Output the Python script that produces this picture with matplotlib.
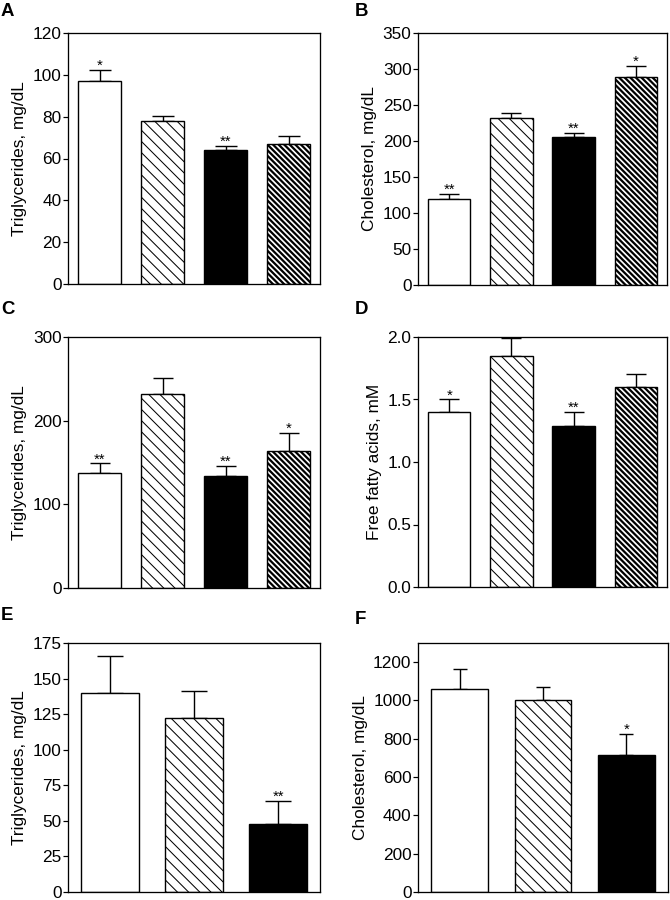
import matplotlib
matplotlib.use('Agg')
import matplotlib.pyplot as plt
import numpy as np

plt.rcParams['font.family'] = ['Liberation Sans', 'DejaVu Sans']

# ------------ Data ---------------
# A: triglycerides
tg_a = [97, 78, 64, 67]
tg_a_err = [5.3, 2.1, 1.9, 3.7]
tg_a_sig = ['*', '', '**', '']

# B: cholesterol
chol_b = [120, 232, 206, 289]
chol_b_err = [6, 7, 5, 15]
chol_b_sig = ['**', '', '**', '*']

# C: triglycerides
tg_c = [137, 232, 134, 164]
tg_c_err = [12, 19, 12, 21]
tg_c_sig = ['**', '', '**', '*']

# D: free fatty acids
ffa_d = [1.40, 1.85, 1.29, 1.60]
ffa_d_err = [0.10, 0.14, 0.11, 0.10]
ffa_d_sig = ['*', '', '**', '']

# E: triglycerides (3 groups)
tg_e = [140, 122, 48]
tg_e_err = [26, 19, 16]
tg_e_sig = ['', '', '**']

# F: cholesterol (3 groups)
chol_f = [1058, 1004, 716]
chol_f_err = [107, 64, 110]
chol_f_sig = ['', '', '*']

# ------------ Plot Setup ---------------
DPI = 67
W, H = 670, 900
fig = plt.figure(figsize=(W / DPI, H / DPI), dpi=DPI)

# bar styles: (face, hatch, hatch linewidth)
STYLES = [('white', None, 1.0), ('white', '\\\\', 1.1),
          ('black', None, 1.0), ('white', '\\\\\\\\', 2.4)]


def px_axes(left, top, right, bottom):
    return fig.add_axes([left / W, 1 - bottom / H, (right - left) / W, (bottom - top) / H])


def panel(ax, vals, errs, sig, ylim, ticks, ylabel, capsize, fmt=None):
    n = len(vals)
    x = np.arange(n)
    for i in range(n):
        face, hatch, hlw = STYLES[i]
        with plt.rc_context({'hatch.linewidth': hlw}):
            bars = ax.bar(x[i], vals[i], width=0.68, color=face, edgecolor='black',
                          linewidth=1.5, hatch=hatch, zorder=2)
        for b in bars:
            if hasattr(b, 'set_hatch_linewidth'):
                b.set_hatch_linewidth(hlw)
    ax.errorbar(x, vals, yerr=[np.zeros(n), errs], fmt='none', ecolor='black',
                elinewidth=1.5, capsize=capsize, capthick=1.5, zorder=1)
    for i in range(n):
        if sig[i]:
            ax.annotate(sig[i], (x[i], vals[i] + errs[i]), xytext=(0, 0),
                        textcoords='offset points', ha='center', va='baseline',
                        fontsize=16)
    ax.set_xlim(-0.5, n - 0.5)
    ax.set_ylim(*ylim)
    ax.set_yticks(ticks)
    if fmt:
        ax.set_yticklabels([fmt.format(t) for t in ticks])
    ax.set_xticks([])
    ax.tick_params(axis='y', direction='out', length=5, width=1.3, labelsize=18.5, pad=2)
    for s in ax.spines.values():
        s.set_linewidth(1.4)
    ax.set_ylabel(ylabel, fontsize=18.5, labelpad=6)


axA = px_axes(68, 33, 320, 284)
panel(axA, tg_a, tg_a_err, tg_a_sig, (0, 120), np.arange(0, 121, 20),
      'Triglycerides, mg/dL', 11.5)

axB = px_axes(418, 33, 667, 285)
panel(axB, chol_b, chol_b_err, chol_b_sig, (0, 350), np.arange(0, 351, 50),
      'Cholesterol, mg/dL', 10.5)

axC = px_axes(68, 337, 320, 588)
panel(axC, tg_c, tg_c_err, tg_c_sig, (0, 300), np.arange(0, 301, 100),
      'Triglycerides, mg/dL', 11)

axD = px_axes(418, 337, 667, 587)
panel(axD, ffa_d, ffa_d_err, ffa_d_sig, (0, 2.0), np.arange(0, 2.01, 0.5),
      'Free fatty acids, mM', 11, fmt='{:.1f}')

axE = px_axes(68, 643, 320, 892)
panel(axE, tg_e, tg_e_err, tg_e_sig, (0, 175), np.arange(0, 176, 25),
      'Triglycerides, mg/dL', 14.5)

axF = px_axes(418, 643, 668, 892)
panel(axF, chol_f, chol_f_err, chol_f_sig, (0, 1300), np.arange(0, 1201, 200),
      'Cholesterol, mg/dL', 7.5)

# panel letters
for lab, (px, py) in zip('ABCDEF', [(1, 3), (355, 3), (1, 301), (355, 301),
                                    (1, 607), (355, 611)]):
    fig.text(px / W, 1 - py / H, lab, fontsize=20, fontweight='bold',
             ha='left', va='top')

fig.savefig('out.png', dpi=DPI)
